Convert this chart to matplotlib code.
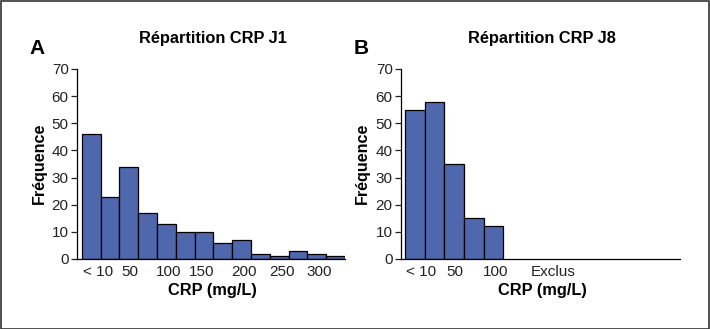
import matplotlib
matplotlib.use("Agg")
import matplotlib.pyplot as plt
from matplotlib.patches import Rectangle
import numpy as np

plt.rcParams['font.family'] = ['Liberation Sans', 'DejaVu Sans']

# Data
j1_counts = [46, 23, 34, 17, 13, 10, 10, 6, 7, 2, 1, 3, 2, 1]
j1_tick_pos = [0.87, 2.57, 4.64, 6.35, 8.63, 10.64, 12.63]
j1_tick_labels = ["< 10", "50", "100", "150", "200", "250", "300"]

j8_counts = [55, 58, 35, 15, 12]
j8_tick_pos = [0.81, 2.54, 4.6, 7.56]
j8_tick_labels = ["< 10", "50", "100", "Exclus"]

bar_color = "#4E67AD"
W, H = 710, 329
fig = plt.figure(figsize=(W / 100, H / 100), dpi=100)

def make_ax(left_px, right_px, counts, tpos, tlabels, xlim, title, letter, letter_x, ylab_x):
    bottom_px, top_px = 259, 69
    ax = fig.add_axes([left_px / W, 1 - bottom_px / H, (right_px - left_px) / W, (bottom_px - top_px) / H])
    x = np.arange(len(counts))
    ax.bar(x, counts, width=1.0, align='edge', color=bar_color, edgecolor='black', linewidth=0.9)
    ax.set_xlim(*xlim)
    ax.set_ylim(0, 70)
    ax.set_yticks(range(0, 71, 10))
    ax.set_xticks(tpos)
    ax.set_xticklabels(tlabels)
    ax.tick_params(axis='x', length=0, pad=4, labelsize=11, colors='#222222')
    ax.tick_params(axis='y', length=4, width=0.9, pad=2, labelsize=11, colors='#222222')
    for s in ['top', 'right']:
        ax.spines[s].set_visible(False)
    for s in ['left', 'bottom']:
        ax.spines[s].set_linewidth(0.9)
    cx = (left_px + right_px) / 2 / W + 1.5 / W
    fig.text(cx, 1 - 290 / H, "CRP (mg/L)", ha='center', va='center', fontsize=11.8, fontweight='bold')
    fig.text(ylab_x / W, 1 - 163 / H, "Fréquence", ha='center', va='center', rotation=90,
             fontsize=11.6, fontweight='bold')
    fig.text(cx, 1 - 39 / H, title, ha='center', va='center', fontsize=11.8, fontweight='bold')
    fig.text(letter_x / W, 1 - 48.5 / H, letter, ha='left', va='center', fontsize=15, fontweight='bold')
    return ax

make_ax(77, 345, j1_counts, j1_tick_pos, j1_tick_labels, (-0.25, 14), "Répartition CRP J1", "A", 29, 39)
make_ax(401, 680, j8_counts, j8_tick_pos, j8_tick_labels, (-0.2, 14), "Répartition CRP J8", "B", 354, 362)

fig.patches.append(Rectangle((0.5 / W, 0.5 / H), 1 - 1.5 / W, 1 - 1.5 / H, transform=fig.transFigure,
                             fill=False, edgecolor='#333333', linewidth=1.2))

fig.savefig("out.png", dpi=100)
